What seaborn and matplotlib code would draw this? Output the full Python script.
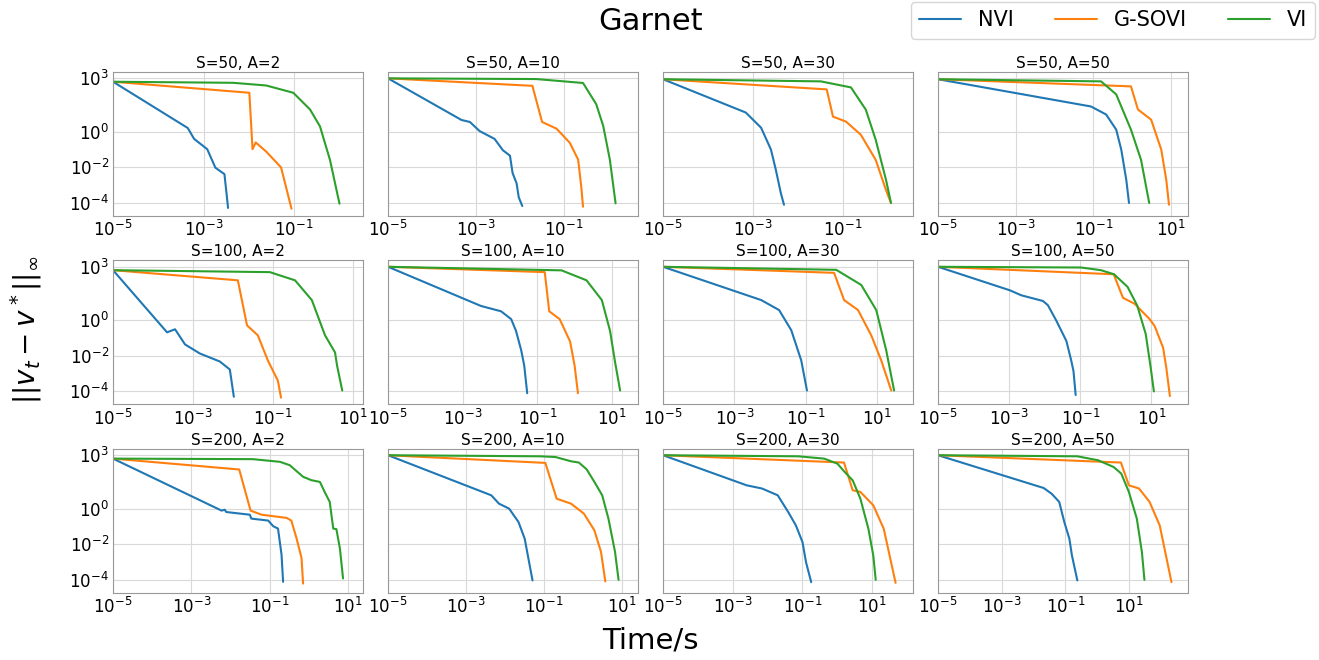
import numpy as np
import pandas as pd
import matplotlib
matplotlib.use("Agg")
import matplotlib.pyplot as plt
import seaborn as sns

states = [50, 50, 50, 50, 100, 100, 100, 100, 200, 200, 200, 200]
actions = [2, 10, 30, 50, 2, 10, 30, 50, 2, 10, 30, 50]
methods = ["NVI", "G-SOVI", "VI"]
# right end of each panel's time axis (log10)
xmax_log = [0.52, 0.68, 0.56, 1.44, 1.25, 1.7, 2.0, 2.03, 1.38, 1.42, 2.17, 2.86]

# log10(time) and log10(error), row by row
nvi_logt = [
    [-5, -3.35, -3.21, -2.92, -2.74, -2.54, -2.46],
    [-5, -3.33, -3.14, -2.92, -2.58, -2.39, -2.23, -2.17, -2.08, -2.03, -1.95],
    [-5, -3.16, -2.82, -2.6, -2.49, -2.38, -2.31],
    [-5, -1.06, -0.67, -0.41, -0.28, -0.15, -0.08],
    [-5, -3.65, -3.45, -3.2, -2.83, -2.33, -2.08, -1.98],
    [-5, -2.51, -1.97, -1.7, -1.57, -1.43, -1.35, -1.27],
    [-5, -2.25, -1.75, -1.41, -1.13, -0.97],
    [-5, -2.98, -2.66, -2.05, -1.91, -1.67, -1.39, -1.25, -1.19, -1.13],
    [-5, -2.23, -2.15, -2.11, -1.51, -1.47, -1.04, -0.91, -0.79, -0.70, -0.66],
    [-5, -2.35, -2.15, -1.89, -1.65, -1.49, -1.29],
    [-5, -2.6, -2.16, -1.71, -1.41, -1.19, -1.0, -0.9, -0.75],
    [-5, -1.68, -1.43, -1.19, -1.03, -0.87, -0.79, -0.62],
]
nvi_loge = [
    [2.81, 0.21, -0.4, -0.98, -2.02, -2.38, -4.28],
    [3.0, 0.66, 0.55, 0.04, -0.4, -1.04, -1.34, -2.32, -2.89, -3.68, -4.17],
    [2.95, 1.08, 0.23, -1.0, -2.15, -3.45, -4.1],
    [2.95, 1.42, 0.97, 0.12, -1.0, -2.71, -4.0],
    [2.81, -0.68, -0.51, -1.36, -1.87, -2.32, -2.77, -4.3],
    [3.0, 0.8, 0.5, 0.06, -0.6, -1.7, -2.55, -4.1],
    [3.0, 1.13, 0.57, -0.56, -2.26, -3.95],
    [3.0, 1.68, 1.4, 1.08, 0.84, -0.04, -1.17, -2.3, -2.87, -4.2],
    [2.81, -0.11, -0.06, -0.19, -0.34, -0.56, -0.67, -0.99, -1.12, -2.58, -4.11],
    [3.0, 0.75, 0.28, 0.0, -0.75, -1.69, -4.03],
    [3.0, 1.31, 1.13, 0.75, -0.19, -0.94, -1.88, -3.0, -4.13],
    [3.0, 1.16, 0.84, 0.38, -0.75, -1.69, -2.63, -4.03],
]
gsovi_logt = [
    [-5, -1.99, -1.92, -1.85, -1.62, -1.29, -1.06],
    [-5, -1.72, -1.5, -1.17, -0.87, -0.68, -0.61, -0.57],
    [-5, -1.36, -1.22, -0.93, -0.6, -0.27, -0.04, 0.07],
    [-5, -0.03, 0.15, 0.49, 0.75, 0.88, 0.95],
    [-5, -1.88, -1.65, -1.38, -1.13, -0.88, -0.8],
    [-5, -0.8, -0.68, -0.4, -0.12, 0.0, 0.09],
    [-5, -0.21, 0.07, 0.46, 0.83, 1.11, 1.39],
    [-5, -0.06, 0.2, 0.53, 0.95, 1.09, 1.33, 1.42, 1.52],
    [-5, -1.78, -1.49, -1.21, -0.57, -0.45, -0.32, -0.19, -0.15],
    [-5, -0.96, -0.67, -0.30, 0.03, 0.30, 0.47, 0.58],
    [-5, 0.19, 0.44, 0.66, 1.03, 1.33, 1.67],
    [-5, 0.75, 1.0, 1.32, 1.65, 1.97, 2.34],
]
gsovi_loge = [
    [2.81, 2.19, -0.98, -0.6, -1.11, -2.0, -4.32],
    [3.0, 2.58, 0.55, 0.17, -0.62, -1.57, -3.08, -4.21],
    [2.95, 2.38, 0.85, 0.57, -0.17, -1.58, -3.28, -4.0],
    [2.95, 2.55, 1.25, 0.68, -1.0, -2.71, -4.1],
    [2.81, 2.24, -0.29, -0.85, -2.26, -3.39, -4.35],
    [3.0, 2.7, 0.5, 0.06, -1.2, -2.55, -4.1],
    [3.0, 2.66, 1.13, 0.57, -0.85, -2.26, -3.95],
    [3.0, 2.58, 1.26, 0.92, 0.06, -0.32, -1.55, -2.68, -4.26],
    [2.81, 2.2, -0.11, -0.34, -0.52, -0.67, -1.64, -2.77, -4.21],
    [3.0, 2.57, 0.56, 0.28, -0.28, -1.22, -2.44, -4.09],
    [3.0, 2.59, 1.03, 0.94, 0.19, -1.13, -4.17],
    [3.0, 2.59, 1.31, 1.13, 0.38, -0.94, -4.13],
]
vi_logt = [
    [-5, -2.35, -1.62, -1.02, -0.65, -0.43, -0.21, 0.0],
    [-5, -1.63, -0.57, -0.27, -0.11, 0.04, 0.17],
    [-5, -1.49, -0.82, -0.49, -0.27, -0.04, 0.07],
    [-5, -0.8, -0.41, -0.03, 0.23, 0.44],
    [-5, -1.08, -0.45, -0.03, 0.3, 0.55, 0.6, 0.73],
    [-5, -0.35, 0.32, 0.73, 0.95, 1.08, 1.22],
    [-5, -0.15, 0.55, 0.97, 1.25, 1.47],
    [-5, -0.98, -0.42, -0.05, 0.33, 0.6, 0.84, 0.98, 1.07],
    [-5, -1.43, -0.74, -0.49, -0.15, 0.06, 0.28, 0.4, 0.53, 0.62, 0.70, 0.79, 0.87],
    [-5, -1.09, -0.70, -0.30, -0.10, 0.10, 0.30, 0.50, 0.66, 0.83, 0.92],
    [-5, -1.12, -0.38, 0.0, 0.21, 0.44, 0.66, 0.89, 1.03, 1.1],
    [-5, -0.62, 0.03, 0.52, 0.76, 1.0, 1.25, 1.41, 1.49],
]
vi_loge = [
    [2.81, 2.75, 2.6, 2.19, 1.25, 0.3, -1.58, -4.04],
    [3.0, 2.96, 2.74, 1.55, 0.32, -1.57, -4.02],
    [2.95, 2.83, 2.49, 1.24, -0.45, -2.71, -4.0],
    [2.95, 2.83, 2.1, 0.12, -1.58, -4.0],
    [2.81, 2.7, 2.24, 1.13, -0.85, -1.81, -2.54, -3.95],
    [3.0, 2.8, 2.24, 1.13, -0.6, -2.3, -3.95],
    [3.0, 2.83, 1.98, 0.57, -1.7, -3.95],
    [3.0, 2.96, 2.81, 2.58, 1.87, 0.83, -0.77, -2.66, -4.0],
    [2.81, 2.78, 2.63, 2.44, 1.79, 1.6, 1.5, 0.94, 0.38, -1.12, -1.15, -2.24, -3.92],
    [3.0, 2.94, 2.9, 2.66, 2.59, 2.21, 1.5, 0.75, -0.56, -2.44, -4.0],
    [3.0, 2.94, 2.81, 2.53, 2.06, 1.59, 0.56, -1.13, -2.63, -4.0],
    [3.0, 2.94, 2.72, 2.34, 1.97, 0.94, -0.56, -2.44, -4.0],
]

rows = []
for p in range(12):
    for m, lt, le in zip(methods, [nvi_logt, gsovi_logt, vi_logt], [nvi_loge, gsovi_loge, vi_loge]):
        for t, e in zip(lt[p], le[p]):
            rows.append({"panel": p, "method": m, "time": 10.0 ** t, "err": 10.0 ** e})
df = pd.DataFrame(rows)

sns.set_style("whitegrid", {"axes.edgecolor": ".6", "grid.color": ".85",
                            "text.color": "black", "xtick.color": "black", "ytick.color": "black"})
palette = dict(zip(methods, sns.color_palette("tab10", 3)))

fig, axes = plt.subplots(3, 4, figsize=(13.19, 6.6), dpi=100, sharey=True)
fig.subplots_adjust(left=0.0857, right=0.9007, top=0.891, bottom=0.102, wspace=0.1, hspace=0.31)

for p, ax in enumerate(axes.flat):
    sub = df[df["panel"] == p]
    ax.set_xscale("log")
    ax.set_yscale("log")
    sns.lineplot(data=sub, x="time", y="err", hue="method", hue_order=methods, palette=palette,
                 sort=False, estimator=None, units="method", legend=False, linewidth=1.5, ax=ax)
    ax.set_xlim(1e-5, 10 ** xmax_log[p])
    ax.set_ylim(10 ** -4.72, 10 ** 3.36)
    ax.set_yticks([1e3, 1e0, 1e-2, 1e-4])
    ax.set_xticks([x for x in 10.0 ** np.arange(-5, 4, 2) if x <= 10 ** xmax_log[p]])
    ax.minorticks_off()
    ax.set_title(f"S={states[p]}, A={actions[p]}", fontsize=11, pad=3)
    ax.set_xlabel("")
    ax.set_ylabel("")
    ax.tick_params(labelsize=12, length=0, pad=3)
    ax.grid(True)

handles = [plt.Line2D([], [], color=palette[m], linewidth=1.5) for m in methods]
fig.legend(handles, methods, loc="upper right", bbox_to_anchor=(1.005, 1.013), ncol=3,
           fontsize=15, handlelength=2, columnspacing=2.0, frameon=True)
fig.suptitle("Garnet", x=0.493, y=0.99, fontsize=22)
fig.text(0.493, 0.03, "Time/s", ha="center", va="center", fontsize=21)
fig.text(0.02, 0.5, r"$||v_t-v^*||_\infty$", ha="center", va="center", rotation=90, fontsize=20)

plt.savefig("out.png", dpi=100)
